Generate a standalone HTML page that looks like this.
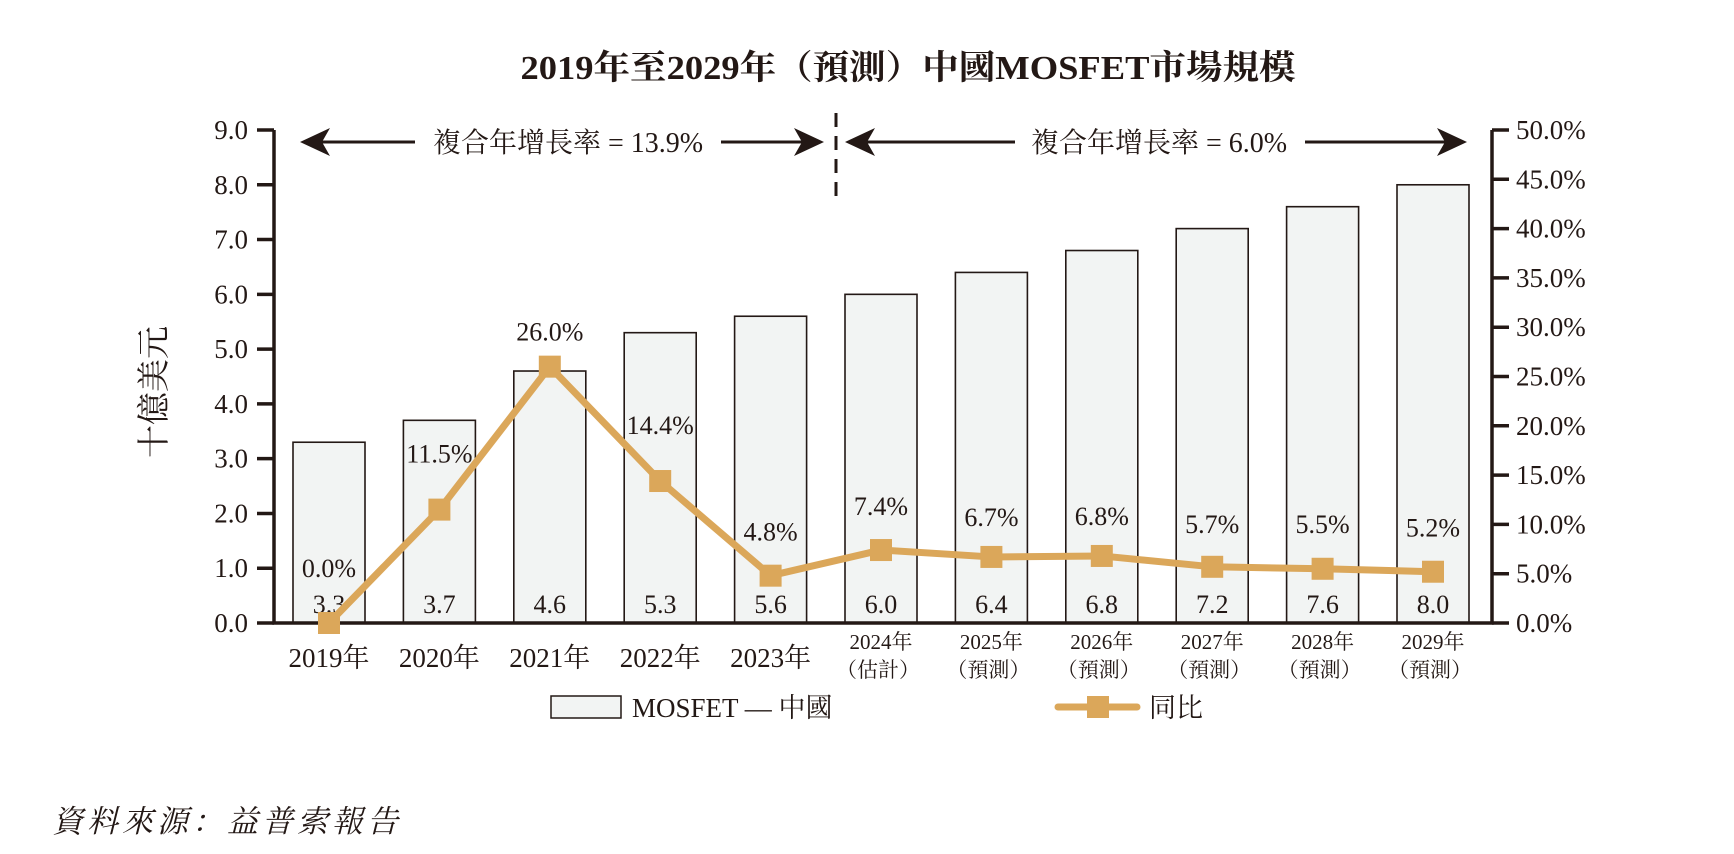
<!DOCTYPE html>
<html><head><meta charset="utf-8">
<style>
html,body{margin:0;padding:0;background:#fff;}
svg{display:block;font-family:"Liberation Serif","Noto Serif CJK SC","Noto Sans CJK TC",serif;}
</style></head>
<body>
<svg id="chart" width="1734" height="854" viewBox="0 0 1734 854" xmlns="http://www.w3.org/2000/svg">
  <text x="908" y="79" text-anchor="middle" font-size="34" font-weight="bold" textLength="775" lengthAdjust="spacingAndGlyphs" fill="#231815">2019年至2029年（預測）中國MOSFET市場規模</text>
  <text transform="translate(165,392) rotate(-90)" text-anchor="middle" font-size="33" fill="#231815">十億美元</text>
  <g id="plot"></g>
  <line x1="836" y1="113" x2="836" y2="196" stroke="#231815" stroke-width="3" stroke-dasharray="14,9"/>
  <g>
    <line x1="310" y1="142" x2="814" y2="142" stroke="#231815" stroke-width="3"/>
    <polygon points="300,142 330,128 322,142 330,156" fill="#231815"/>
    <polygon points="824,142 794,128 802,142 794,156" fill="#231815"/>
    <rect x="415" y="124" width="306" height="36" fill="#fff"/>
    <text x="568" y="152" text-anchor="middle" font-size="28" fill="#231815">複合年增長率 = 13.9%</text>
  </g>
  <g>
    <line x1="855" y1="142" x2="1456" y2="142" stroke="#231815" stroke-width="3"/>
    <polygon points="845,142 875,128 867,142 875,156" fill="#231815"/>
    <polygon points="1467,142 1437,128 1445,142 1437,156" fill="#231815"/>
    <rect x="1015" y="124" width="290" height="36" fill="#fff"/>
    <text x="1159" y="152" text-anchor="middle" font-size="28" fill="#231815">複合年增長率 = 6.0%</text>
  </g>
  <rect x="551" y="696" width="70" height="22" fill="#f2f4f3" stroke="#231815" stroke-width="1.5"/>
  <text x="632" y="717" font-size="27" fill="#231815">MOSFET — 中國</text>
  <line x1="1058" y1="707" x2="1137" y2="707" stroke="#dba75a" stroke-width="7" stroke-linecap="round"/>
  <rect x="1087" y="696" width="22" height="22" fill="#dba75a"/>
  <text x="1149" y="717" font-size="27" fill="#231815">同比</text>
  <text x="52" y="832" font-size="31" font-style="italic" letter-spacing="4" fill="#231815">資料來源：益普索報告</text>
</svg>
<script>
const categories = ["2019年","2020年","2021年","2022年","2023年","2024年","2025年","2026年","2027年","2028年","2029年"];
const subLabels = ["","","","","","（估計）","（預測）","（預測）","（預測）","（預測）","（預測）"];
const marketSize = [3.3,3.7,4.6,5.3,5.6,6.0,6.4,6.8,7.2,7.6,8.0];
const yoyGrowth = [0.0,11.5,26.0,14.4,4.8,7.4,6.7,6.8,5.7,5.5,5.2];
const leftTicks = [0,1,2,3,4,5,6,7,8,9];
const rightTicks = [0,5,10,15,20,25,30,35,40,45,50];
const labelOffset = [55,56,35,56,44,44,40,40,43,45,44];

const NS = "http://www.w3.org/2000/svg";
const g = document.getElementById("plot");
const X0 = 274, X1 = 1492, Y0 = 623, YT = 130;
const xC = i => 329 + i * 110.4;
const yL = v => Y0 - (v / 9) * (Y0 - YT);
const yR = v => Y0 - (v / 50) * (Y0 - YT);
function mk(tag, attrs, text) {
  const e = document.createElementNS(NS, tag);
  for (const k in attrs) e.setAttribute(k, attrs[k]);
  if (text !== undefined) e.textContent = text;
  g.appendChild(e);
  return e;
}
marketSize.forEach((v, i) => {
  const b = mk("rect", {x: xC(i) - 36, y: yL(v), width: 72, height: Y0 - yL(v), fill: "#f2f4f3", stroke: "#231815", "stroke-width": 1.6});
  
  
  const t = mk("text", {x: xC(i), y: 613, "text-anchor": "middle", "font-size": 26, fill: "#231815"}, v.toFixed(1));
  
  
});
const ax = mk("path", {d: `M${X0},${YT} V${Y0} H${X1} V${YT}`, fill: "none", stroke: "#231815", "stroke-width": 3.5});


leftTicks.forEach(v => {
  mk("line", {x1: X0 - 17, y1: yL(v), x2: X0, y2: yL(v), stroke: "#231815", "stroke-width": 3.5});
  const t = mk("text", {x: 248, y: yL(v) + 9, "text-anchor": "end", "font-size": 27, fill: "#231815"}, v.toFixed(1));
  
  
});
rightTicks.forEach(v => {
  mk("line", {x1: X1, y1: yR(v), x2: X1 + 17, y2: yR(v), stroke: "#231815", "stroke-width": 3.5});
  const t = mk("text", {x: 1516, y: yR(v) + 9, "font-size": 27, fill: "#231815"}, v.toFixed(1) + "%");
  
  
});
categories.forEach((c, i) => {
  if (subLabels[i]) {
    const t = mk("text", {x: xC(i), y: 649, "text-anchor": "middle", "font-size": 21, fill: "#231815"}, c);
    
    
    const s = mk("text", {x: xC(i) - 3, y: 677, "text-anchor": "middle", "font-size": 21, fill: "#231815"}, subLabels[i]);
    
    
  } else {
    const t = mk("text", {x: xC(i), y: 667, "text-anchor": "middle", "font-size": 27, fill: "#231815"}, c);
    
    
  }
});
const pts = yoyGrowth.map((v, i) => xC(i) + "," + yR(v)).join(" ");
const ln = mk("polyline", {points: pts, fill: "none", stroke: "#dba75a", "stroke-width": 7, "stroke-linejoin": "round"});


yoyGrowth.forEach((v, i) => {
  const m = mk("rect", {x: xC(i) - 11, y: yR(v) - 11, width: 22, height: 22, fill: "#dba75a"});
  
  
  const t = mk("text", {x: xC(i), y: yR(v) - labelOffset[i] + 9, "text-anchor": "middle", "font-size": 26, fill: "#231815"}, v.toFixed(1) + "%");
  
  
});
</script>
</body></html>
